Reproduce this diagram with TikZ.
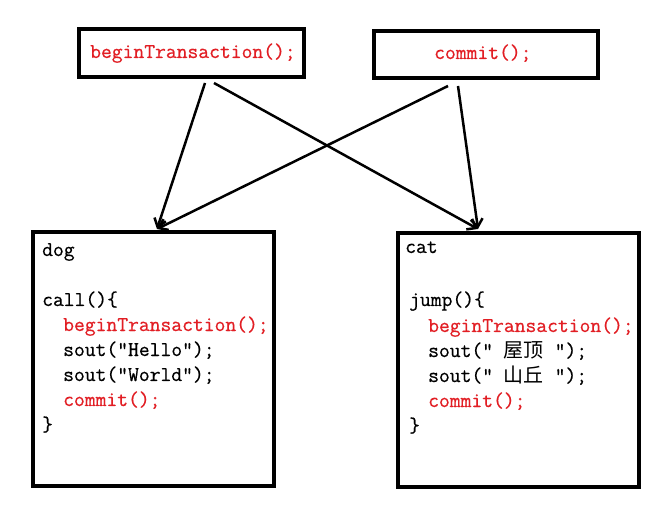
\documentclass[tikz,border=0pt]{standalone}
\usepackage{fontspec}
\newfontfamily\cjk{Noto Sans CJK SC}
\newfontfamily\codefont{Latin Modern Mono}[FakeBold=0.6]
\usetikzlibrary{arrows.meta}
\definecolor{codered}{RGB}{226,30,36}
\begin{document}
\begin{tikzpicture}[x=1pt,y=-1pt,
  box/.style={draw, line width=4pt, inner sep=0pt},
  code/.style={anchor=base west, inner sep=0pt, font=\codefont\fontsize{21}{25}\selectfont},
  redcode/.style={code, text=codered},
  link/.style={line width=2.5pt, -{Straight Barb[length=8pt,width=12pt,line width=2.5pt]}}]
\useasboundingbox[fill=white] (0,0) rectangle (662,505);
% top boxes
\node[box, minimum width=225pt, minimum height=48pt] (b1) at (191.5,53) {};
\node[redcode] (t1) at (90,58) {beginTransaction();};
\node[box, minimum width=224pt, minimum height=47pt] (b2) at (486,54.5) {};
\node[redcode] (t2) at (434,59) {commit();};
% bottom boxes
\node[box, minimum width=241pt, minimum height=254pt] (dog) at (153.5,359) {};
\node[box, minimum width=241pt, minimum height=254pt] (cat) at (518.5,360) {};
% dog code
\node[code] (d0) at (42,256) {dog};
\node[code] (d1) at (42,306) {call()\{};
\node[redcode] (d2) at (63,331) {beginTransaction();};
\node[code] (d3) at (63,356) {sout("Hello");};
\node[code] (d4) at (63,381) {sout("World");};
\node[redcode] (d5) at (63,406) {commit();};
\node[code] (d6) at (42,431) {\}};
% cat code
\node[code] (c0) at (405,253) {cat};
\node[code] (c1) at (409,306) {jump()\{};
\node[redcode] (c2) at (428,332) {beginTransaction();};
\node[code] (c3) at (428,357) {sout(" {\cjk\fontsize{20}{25}\selectfont 屋顶} ");};
\node[code] (c4) at (428,382) {sout(" {\cjk\fontsize{20}{25}\selectfont 山丘} ");};
\node[redcode] (c5) at (428,407) {commit();};
\node[code] (c6) at (409,432) {\}};
% connector ends
\coordinate (s1a) at (205,83);
\coordinate (s1b) at (214,83);
\coordinate (s2a) at (448,86);
\coordinate (s2b) at (458,86);
\coordinate (edog) at (157,229);
\coordinate (ecat) at (478,229);
\draw[link] (s1a) -- (edog);
\draw[link] (s1b) -- (ecat);
\draw[link] (s2a) -- (edog);
\draw[link] (s2b) -- (ecat);
\end{tikzpicture}
\end{document}
